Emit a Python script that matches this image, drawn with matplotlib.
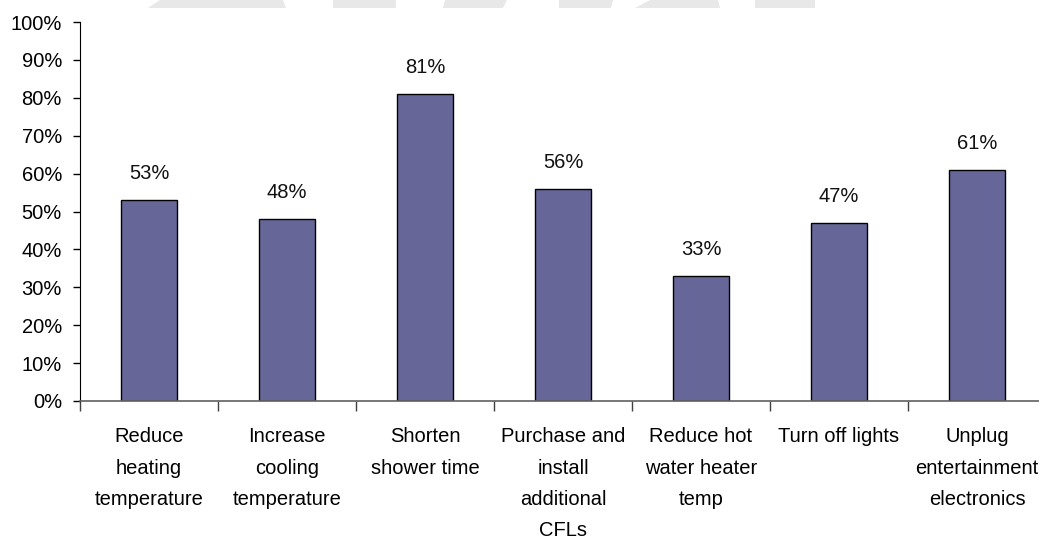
import matplotlib
matplotlib.use("Agg")
import matplotlib.pyplot as plt
from matplotlib.patches import Polygon
from matplotlib.ticker import FixedLocator, FuncFormatter

plt.rcParams['font.family'] = ['Liberation Sans Narrow', 'Liberation Sans', 'DejaVu Sans']

# Share of households taking each energy-saving action
actions = [
    "Reduce\nheating\ntemperature",
    "Increase\ncooling\ntemperature",
    "Shorten\nshower time",
    "Purchase and\ninstall\nadditional\nCFLs",
    "Reduce hot\nwater heater\ntemp",
    "Turn off lights",
    "Unplug\nentertainment\nelectronics",
]
shares = [53, 48, 81, 56, 33, 47, 61]
y_ticks = list(range(0, 101, 10))

FS = 14.5
W, H = 1039, 544
fig = plt.figure(figsize=(W / 100, H / 100), dpi=100)

# faint letterhead band along the top edge (pixel outlines)
band = [
    [(160, 0), (283, 0), (286, 8), (148, 8)],
    [(333, 0), (396, 0), (396, 8), (333, 8)],
    [(445, 0), (507, 0), (503, 8), (443, 8)],
    [(559, 0), (613, 0), (611, 8), (559, 8)],
    [(650, 0), (718, 0), (720, 8), (635, 8)],
    [(755, 0), (815, 0), (815, 8), (755, 8)],
]
for pts in band:
    fig.patches.append(Polygon([(x / W, 1 - y / H) for x, y in pts], closed=True,
                               transform=fig.transFigure, facecolor='#e8e8e8',
                               edgecolor='none', zorder=0))

ax = fig.add_axes([80 / W, (H - 401) / H, 966 / W, 379 / H])
x = range(len(actions))
bars = ax.bar(x, shares, width=0.41, color='#666699', edgecolor='black', linewidth=1.0, zorder=2)

for bar, v in zip(bars, shares):
    ax.annotate(f'{v}%', xy=(bar.get_x() + bar.get_width() / 2, v),
                xytext=(0, 12), textcoords='offset points',
                ha='center', va='bottom', fontsize=FS, color='#111111')

ax.set_xlim(-0.5, len(actions) - 0.5)
ax.set_ylim(0, 100)

ax.yaxis.set_major_locator(FixedLocator(y_ticks))
ax.yaxis.set_major_formatter(FuncFormatter(lambda v, _: f'{v:.0f}%'))
ax.tick_params(axis='y', direction='out', length=5, width=1, labelsize=FS, pad=8)

ax.set_xticks(list(x))
ax.set_xticklabels(actions, fontsize=FS, linespacing=1.82)
ax.tick_params(axis='x', which='major', length=0, pad=19)
ax.set_xticks([i - 0.5 for i in range(len(actions) + 1)], minor=True)
ax.tick_params(axis='x', which='minor', direction='out', length=7, width=1, color='#404040')

for side in ('top', 'right'):
    ax.spines[side].set_visible(False)
ax.spines['left'].set_color('black')
ax.spines['bottom'].set_color('#606060')
ax.spines['bottom'].set_linewidth(1.2)

fig.savefig('out.png', dpi=100)
